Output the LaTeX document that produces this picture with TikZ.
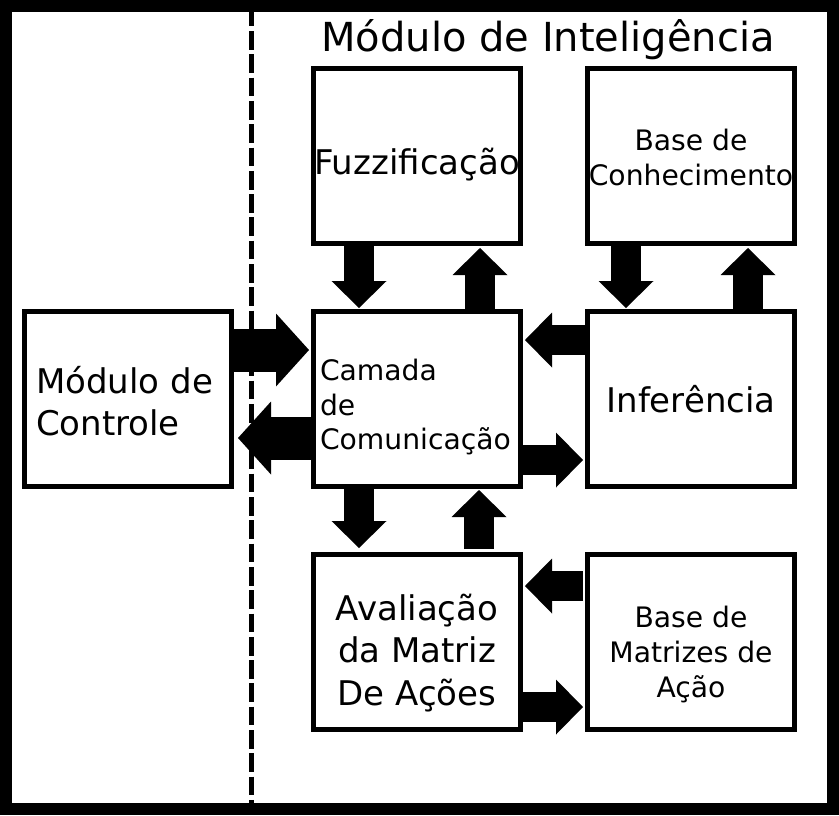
\documentclass[tikz,border=0pt]{standalone}
\usepackage{fontspec}
\setmainfont{DejaVu Sans}
\usetikzlibrary{calc,arrows.meta}
\tikzset{
  box/.style={draw=black, line width=5pt, fill=white, rectangle,
    minimum width=207pt, minimum height=175pt, inner sep=0pt},
  label text/.style={inner sep=0pt, align=center},
  bigtxt/.style={label text, font=\fontsize{34}{42.5}\selectfont},
  smalltxt/.style={label text, font=\fontsize{28.2}{35}\selectfont},
  fatsmall/.style={line width=30pt, -{Triangle[width=55pt,length=27pt,line width=0pt]}},
  fatbig/.style={line width=43pt, -{Triangle[width=73pt,length=33pt,line width=0pt]}},
  divider/.style={line width=4.5pt, dash pattern=on 18.7pt off 4.6pt}
}
\begin{document}
\begin{tikzpicture}[x=1pt, y=-1pt]
\fill[black] (0,0) rectangle (839,815);
\fill[white] (12,12) rectangle (827,803);
\coordinate (dtop) at (251.5,7.7);
\coordinate (dbot) at (251.5,803);
\draw[divider] (dtop) -- (dbot);

\node[anchor=base, inner sep=0pt, font=\fontsize{40}{48}\selectfont] (title) at (548,51) {Módulo de Inteligência};

\node[box] (fuzz) at (417,156) {};
\node[box] (bc) at (691,156) {};
\node[box] (ctrl) at (128,399) {};
\node[box] (cam) at (417,399) {};
\node[box] (inf) at (691,399) {};
\node[box] (aval) at (417,642) {};
\node[box] (bm) at (691,642) {};

\node[bigtxt] (fuzzT) at ($(fuzz.center)+(0,9)$) {Fuzzificação};
\node[smalltxt] (bcT) at ($(bc.center)+(0,1)$) {Base de\\Conhecimento};
\node[bigtxt, align=left, text width=186pt] (ctrlT) at ($(ctrl.center)+(1,2)$) {Módulo de\\Controle};
\node[smalltxt, align=left, text width=194pt] (camT) at ($(cam.center)+(0,8)$) {Camada\\de\\Comunicação};
\node[bigtxt] (infT) at ($(inf.center)+(0,0)$) {Inferência};
\node[bigtxt] (avalT) at ($(aval.center)+(0,11)$) {Avaliação\\da Matriz\\De Ações};
\node[smalltxt] (bmT) at ($(bm.center)+(0,12.5)$) {Base de\\Matrizes de\\Ação};

% vertical arrows
\draw[fatsmall] ($(fuzz.south west)+(48,0)$) -- ($(cam.north west)+(48,-1)$);
\draw[fatsmall] ($(cam.north east)+(-43,0)$) -- ($(fuzz.south east)+(-43,2)$);
\draw[fatsmall] ($(bc.south west)+(41,0)$) -- ($(inf.north west)+(41,-1)$);
\draw[fatsmall] ($(inf.north east)+(-49,0)$) -- ($(bc.south east)+(-49,2)$);
\draw[fatsmall] ($(cam.south west)+(48,0)$) -- ($(aval.north west)+(48,-4)$);
\draw[fatsmall] ($(aval.north east)+(-44,-3)$) -- ($(cam.south east)+(-44,1)$);
% horizontal arrows
\draw[fatbig] ($(ctrl.north east)+(0,41)$) -- ($(cam.north west)+(-2,41)$);
\draw[fatbig] ($(cam.south west)+(0,-51)$) -- ($(ctrl.south east)+(4,-51)$);
\draw[fatsmall] ($(inf.north west)+(0,31)$) -- ($(cam.north east)+(2,31)$);
\draw[fatsmall] ($(cam.south east)+(0,-29)$) -- ($(inf.south west)+(-2,-29)$);
\draw[fatsmall] ($(bm.north west)+(-2,34)$) -- ($(aval.north east)+(2,34)$);
\draw[fatsmall] ($(aval.south east)+(0,-25)$) -- ($(bm.south west)+(-2,-25)$);
\end{tikzpicture}
\end{document}
